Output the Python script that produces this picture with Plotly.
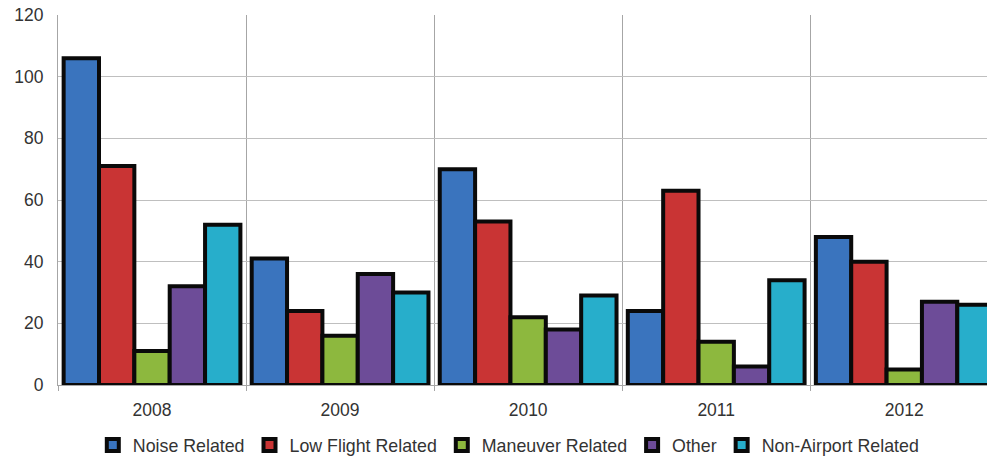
import plotly.graph_objects as go

years = ["2008", "2009", "2010", "2011", "2012"]
series_names = ["Noise Related", "Low Flight Related", "Maneuver Related", "Other", "Non-Airport Related"]
noise = [106, 41, 70, 24, 48]
low_flight = [71, 24, 53, 63, 40]
maneuver = [11, 16, 22, 14, 5]
other = [32, 36, 18, 6, 27]
non_airport = [52, 30, 29, 34, 26]
y_ticks = [0, 20, 40, 60, 80, 100, 120]

colors = ["#3A74BE", "#C93434", "#8DB83E", "#6D4C98", "#27AECB"]
values = [noise, low_flight, maneuver, other, non_airport]

fig = go.Figure()
for name, vals, col in zip(series_names, values, colors):
    fig.add_trace(go.Bar(
        x=years, y=vals, name=name,
        marker=dict(color=col, line=dict(color="#0a0a0a", width=4)),
    ))

font = "Liberation Sans"
fig.update_layout(
    width=987, height=464,
    margin=dict(l=58, r=0, t=15, b=79),
    paper_bgcolor="white", plot_bgcolor="white",
    barmode="group", bargap=0.06, bargroupgap=0.0,
    font=dict(family=font, size=17.5, color="#333333"),
    showlegend=True,
    legend=dict(orientation="h", xref="container", x=0.515, xanchor="center",
                yref="container", y=0.0, yanchor="bottom",
                font=dict(size=17.8, color="#333333"), traceorder="normal",
                itemwidth=30),
    xaxis=dict(range=[-0.5, 4.44], tickson="boundaries", showgrid=True,
               gridcolor="#A6A6A6", gridwidth=1, ticks="outside", ticklen=5,
               tickcolor="#A6A6A6", showline=True, linecolor="#A6A6A6",
               tickfont=dict(size=17.5, color="#333333"), fixedrange=True,
               ticklabelstandoff=9, automargin=False),
    yaxis=dict(range=[0, 120], tickvals=y_ticks, showgrid=True,
               gridcolor="#BFBFBF", gridwidth=1, showline=True,
               linecolor="#A6A6A6", zeroline=False, ticks="",
               tickfont=dict(size=17.5, color="#333333"), ticklabelstandoff=10,
               automargin=False, fixedrange=True),
)

fig.write_html("out.html", config={"displayModeBar": False},
               post_script="document.body.style.margin='0px';")
